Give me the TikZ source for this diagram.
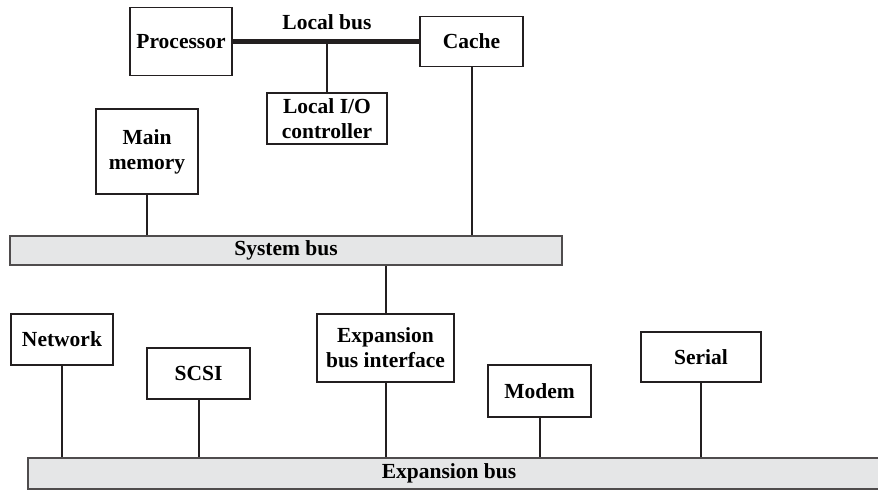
\documentclass[tikz,border=0pt]{standalone}
\usepackage{fontspec}
\setmainfont{Liberation Serif}
\usetikzlibrary{positioning}
\definecolor{busgray}{HTML}{E5E6E7}
\definecolor{ink}{HTML}{231F20}

\begin{document}
\begin{tikzpicture}[
  x=1pt, y=-1pt,
  box/.style={rectangle, draw=ink, line width=1.2pt, fill=white, align=center, inner sep=0pt, font=\fontsize{21.5}{25}\selectfont\bfseries},
  bus/.style={rectangle, draw=ink!80, line width=1.5pt, fill=busgray, inner sep=0pt, font=\fontsize{21.5}{25}\selectfont\bfseries},
  wire/.style={draw=ink, line width=2pt},
  localbus/.style={draw=ink, line width=4.5pt},
  lbl/.style={inner sep=0pt, font=\fontsize{21.5}{25}\selectfont\bfseries},
]
\useasboundingbox (0,0) rectangle (878,490);

% top: processor, cache, local I/O
\node[box, minimum width=102, minimum height=68] (proc) at (181,41.5) {Processor};
\node[box, minimum width=103, minimum height=50] (cache) at (471.5,41.5) {Cache};
\node[box, minimum width=120, minimum height=51] (lio) at (327,118.5) {Local I/O\\controller};
\node[lbl, anchor=base] (lbtext) at (327,29) {Local bus};
\node[box, minimum width=102, minimum height=85] (mem) at (147,151.5) {Main\\memory};

% buses
\node[bus, minimum width=552, minimum height=29] (sysbus) at (286,250.5) {System bus};
\node[bus, minimum width=854, minimum height=31] (expbus) at (455,473.5) {\hspace*{-12pt}Expansion bus};

% expansion side
\node[box, minimum width=137, minimum height=68] (ebi) at (385.5,348) {Expansion\\bus interface};
\node[box, minimum width=102, minimum height=51] (net) at (62,339.5) {Network};
\node[box, minimum width=103, minimum height=51] (scsi) at (198.5,373.5) {SCSI};
\node[box, minimum width=103, minimum height=52] (modem) at (539.5,391) {Modem};
\node[box, minimum width=120, minimum height=50] (serial) at (701,357) {Serial};

\draw[localbus] (proc.east) -- (cache.west);
\draw[wire] (lio.north) -- (lio.north |- proc.east);
\draw[wire] (cache.south) -- (cache.south |- sysbus.north);
\draw[wire] (mem.south) -- (mem.south |- sysbus.north);
\draw[wire] (ebi.north) -- (ebi.north |- sysbus.south);
\draw[wire] (ebi.south) -- (ebi.south |- expbus.north);
\foreach \dev in {net,scsi,modem,serial}
  \draw[wire] (\dev.south) -- (\dev.south |- expbus.north);
\end{tikzpicture}
\end{document}
